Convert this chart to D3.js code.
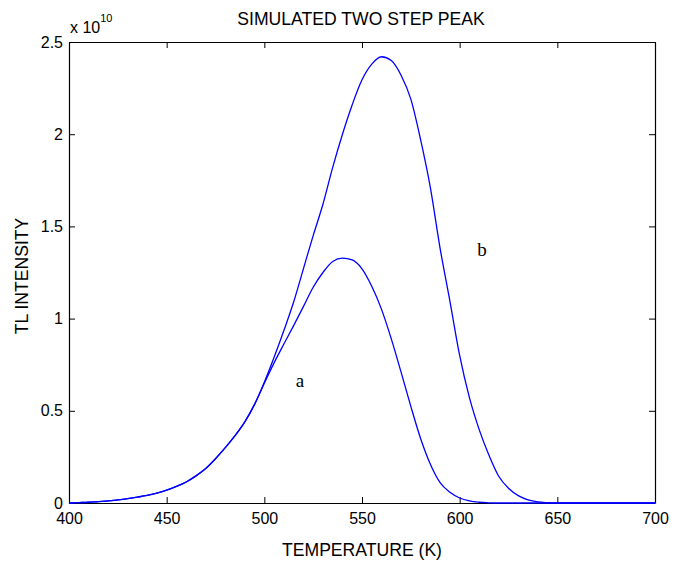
<!DOCTYPE html>
<html lang="en">
<head>
    <meta charset="UTF-8">
    <title>Simulated Two Step Peak</title>
    <script src="https://d3js.org/d3.v7.min.js"></script>
    <style>
        body { margin: 0; background: #fff; }
        text { font-family: "Liberation Sans", Arial, sans-serif; fill: #000; }
    </style>
</head>
<body>
<svg width="683" height="561"></svg>
<script>
// temperatures (K)
const temps = d3.range(400, 705, 5);
// TL intensity, units of 1e10
const curveA = [0, 0.002, 0.004, 0.008, 0.011, 0.017, 0.024, 0.032, 0.041, 0.054,
    0.07, 0.09, 0.114, 0.147, 0.187, 0.24, 0.3, 0.365, 0.44, 0.535,
    0.65, 0.76, 0.862, 0.962, 1.065, 1.17, 1.25, 1.31, 1.328, 1.318,
    1.27, 1.175, 1.05, 0.89, 0.71, 0.524, 0.35, 0.21, 0.11, 0.058,
    0.027, 0.011, 0.004, 0.001, 0, 0, 0, 0, 0, 0,
    0, 0, 0, 0, 0, 0, 0, 0, 0, 0, 0];
const curveB = [0, 0.002, 0.004, 0.008, 0.011, 0.017, 0.024, 0.032, 0.041, 0.054,
    0.07, 0.09, 0.114, 0.147, 0.187, 0.24, 0.3, 0.365, 0.44, 0.535,
    0.655, 0.79, 0.935, 1.09, 1.27, 1.45, 1.62, 1.82, 2.0, 2.16,
    2.295, 2.38, 2.42, 2.4, 2.32, 2.19, 1.97, 1.71, 1.38, 1.095,
    0.8, 0.571, 0.398, 0.259, 0.145, 0.08, 0.04, 0.017, 0.006, 0.002,
    0, 0, 0, 0, 0, 0, 0, 0, 0, 0, 0];
const xTicks = [400, 450, 500, 550, 600, 650, 700];
const yTicks = [0, 0.5, 1, 1.5, 2, 2.5];

const mLeft = 69, mRight = 655, mTop = 42, mBottom = 503;
const svg = d3.select("svg");

const x = d3.scaleLinear().domain([400, 700]).range([mLeft, mRight]);
const y = d3.scaleLinear().domain([0, 2.5]).range([mBottom, mTop]);

// box + inward ticks, matlab style
svg.append("g").attr("transform", `translate(0,${mBottom})`)
    .call(d3.axisBottom(x).tickValues(xTicks).tickSizeInner(-6).tickSizeOuter(0).tickPadding(10).tickFormat(d3.format("d")));
svg.append("g").attr("transform", `translate(0,${mTop})`)
    .call(d3.axisTop(x).tickValues(xTicks).tickSizeInner(-6).tickSizeOuter(0).tickFormat(""));
svg.append("g").attr("transform", `translate(${mLeft},0)`)
    .call(d3.axisLeft(y).tickValues(yTicks).tickSizeInner(-6).tickSizeOuter(0).tickPadding(6).tickFormat(d => d));
svg.append("g").attr("transform", `translate(${mRight},0)`)
    .call(d3.axisRight(y).tickValues(yTicks).tickSizeInner(-6).tickSizeOuter(0).tickFormat(""));

svg.selectAll(".domain").attr("stroke", "#000").attr("stroke-width", 1.2);
svg.selectAll(".tick line").attr("stroke", "#000");
svg.selectAll(".tick text").attr("font-size", "16px").attr("font-family", "Liberation Sans, Arial, sans-serif");

const line = d3.line()
    .x((d, i) => x(temps[i]))
    .y(d => y(d))
    .curve(d3.curveMonotoneX);

[curveA, curveB].forEach(s => {
    svg.append("path")
        .datum(s)
        .attr("d", line)
        .attr("fill", "none")
        .attr("stroke", "#0000ff")
        .attr("stroke-width", 1.3);
});

// titles
svg.append("text").attr("x", 361).attr("y", 25).attr("text-anchor", "middle")
    .attr("font-size", "17.6px").text("SIMULATED TWO STEP PEAK");
svg.append("text").attr("x", 362).attr("y", 556).attr("text-anchor", "middle")
    .attr("font-size", "17.6px").text("TEMPERATURE (K)");
svg.append("text").attr("transform", "translate(28,276) rotate(-90)").attr("text-anchor", "middle")
    .attr("font-size", "17.6px").text("TL INTENSITY");

// exponent
const ex = svg.append("text").attr("x", 70).attr("y", 33).attr("font-size", "16px");
ex.append("tspan").text("x 10");
ex.append("tspan").attr("dy", -11).attr("font-size", "11px").text("10");

// curve labels
svg.append("text").attr("x", 300).attr("y", 387).attr("text-anchor", "middle")
    .style("font-family", "Liberation Serif, Times New Roman, serif").attr("font-size", "19px").text("a");
svg.append("text").attr("x", 482).attr("y", 256).attr("text-anchor", "middle")
    .style("font-family", "Liberation Serif, Times New Roman, serif").attr("font-size", "19px").text("b");
</script>
</body>
</html>
